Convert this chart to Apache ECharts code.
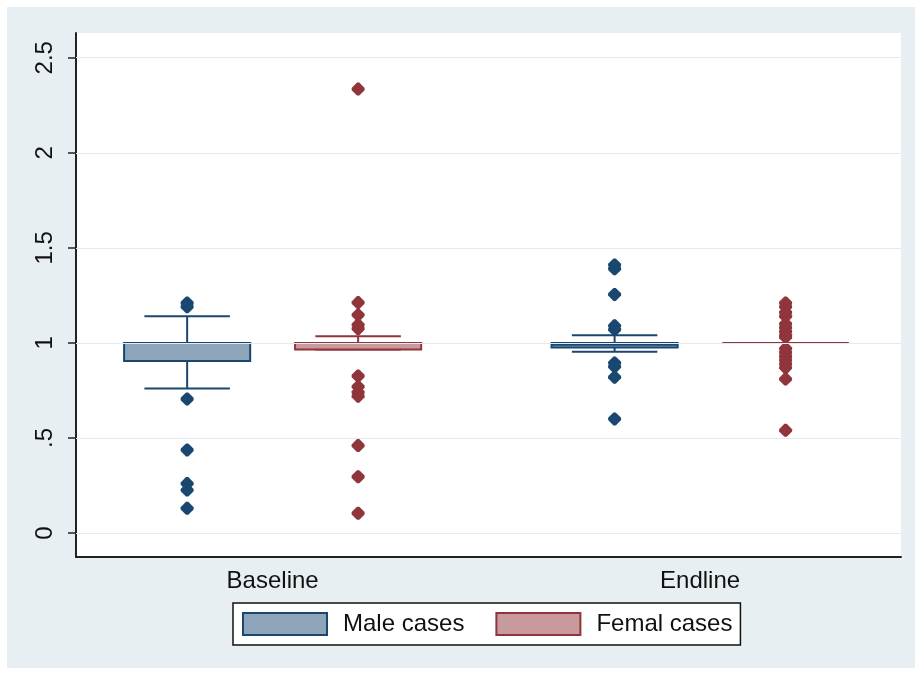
<!DOCTYPE html>
<html>
<head>
<meta charset="utf-8">
<script src="https://cdn.jsdelivr.net/npm/echarts@6/dist/echarts.min.js"></script>
<style>
  html, body { margin: 0; padding: 0; background: #ffffff; }
  #chart { width: 915px; height: 675px; }
</style>
</head>
<body>
<div id="chart"></div>
<script>
// Group labels on the horizontal axis and their positions
const groups = ['Baseline', 'Endline'];
const groupPos = [1, 2];
const seriesNames = ['Male cases', 'Femal cases'];

// Box summaries per group: [lower adjacent, Q1, median, Q3, upper adjacent]
const maleBox = [
  [0.76, 0.905, 1.0, 1.0, 1.14],
  [0.953, 0.976, 0.99, 1.0, 1.04]
];
const femaleBox = [
  [0.965, 0.965, 1.0, 1.0, 1.035],
  [1.0, 1.0, 1.0, 1.0, 1.0]
];

// Outside values per group
const maleOutliers = [
  [1.21, 1.19, 0.705, 0.437, 0.26, 0.226, 0.13],
  [1.41, 1.39, 1.255, 1.09, 1.07, 0.895, 0.875, 0.82, 0.6]
];
const femaleOutliers = [
  [2.335, 1.212, 1.147, 1.095, 1.075, 0.826, 0.77, 0.74, 0.72, 0.46, 0.296, 0.104],
  [1.21, 1.19, 1.16, 1.14, 1.10, 1.08, 1.06, 1.04, 1.03, 0.97, 0.95, 0.93, 0.91, 0.89, 0.87, 0.81, 0.54]
];

// Vertical axis ticks and their labels
const yTicks = [0, 0.5, 1, 1.5, 2, 2.5];
const yTickLabels = ['0', '.5', '1', '1.5', '2', '2.5'];

// Styling
const OFFSET = 0.2;      // distance of each box from its group centre
const BOX_W = 0.295;     // box width in axis units
const CAP_W = 0.2;       // whisker cap width in axis units
const maleStroke = '#1a476f', maleFill = '#8ea4b8';
const femaleStroke = '#90353b', femaleFill = '#c89a9d';
const FONT = 'Liberation Sans, Arial, sans-serif';

function boxData(stats, side) {
  return stats.map((s, i) => [groupPos[i] + side * OFFSET].concat(s));
}
function pointData(lists, side) {
  const out = [];
  lists.forEach((vals, i) => vals.forEach(v => out.push([groupPos[i] + side * OFFSET, v])));
  return out;
}

function makeRenderer(stroke, fill) {
  return function (params, api) {
    const x = api.value(0);
    const lo = api.coord([x, api.value(1)]);
    const q1 = api.coord([x, api.value(2)]);
    const md = api.coord([x, api.value(3)]);
    const q3 = api.coord([x, api.value(4)]);
    const hi = api.coord([x, api.value(5)]);
    const half = api.size([BOX_W, 0])[0] / 2;
    const capHalf = api.size([CAP_W, 0])[0] / 2;
    const cx = lo[0];
    const line = { stroke: stroke, lineWidth: 2 };
    return {
      type: 'group',
      children: [
        { type: 'line', shape: { x1: cx, y1: q3[1], x2: cx, y2: hi[1] }, style: line },
        { type: 'line', shape: { x1: cx, y1: q1[1], x2: cx, y2: lo[1] }, style: line },
        { type: 'line', shape: { x1: cx - capHalf, y1: hi[1], x2: cx + capHalf, y2: hi[1] }, style: line },
        { type: 'line', shape: { x1: cx - capHalf, y1: lo[1], x2: cx + capHalf, y2: lo[1] }, style: line },
        { type: 'rect', shape: { x: cx - half, y: q3[1], width: half * 2, height: q1[1] - q3[1] },
          style: { fill: fill, stroke: stroke, lineWidth: 2 } },
        { type: 'line', shape: { x1: cx - half, y1: md[1], x2: cx + half, y2: md[1] }, style: line }
      ]
    };
  };
}

// blunt-tipped diamond marker
const marker = 'path://M-1.6,-9 L1.6,-9 L9,-1.6 L9,1.6 L1.6,9 L-1.6,9 L-9,1.6 L-9,-1.6Z';

const chart = echarts.init(document.getElementById('chart'), null, { renderer: 'canvas' });

chart.setOption({
  backgroundColor: '#ffffff',
  animation: false,
  graphic: [{
    type: 'rect', z: -10, silent: true,
    shape: { x: 7, y: 7, width: 908, height: 661 },
    style: { fill: '#e8eff2' }
  }],
  grid: {
    left: 76, top: 33, right: 14, bottom: 118,
    show: true, backgroundColor: '#ffffff', borderWidth: 0
  },
  xAxis: {
    type: 'value', min: 0.54, max: 2.47,
    axisLine: { show: true, onZero: false, lineStyle: { color: '#222', width: 2 } },
    axisTick: { show: false },
    splitLine: { show: false },
    axisLabel: {
      customValues: groupPos,
      formatter: v => groups[groupPos.indexOf(v)] || '',
      fontFamily: FONT, fontSize: 24, color: '#111', margin: 12
    }
  },
  yAxis: {
    type: 'value', min: -0.126, max: 2.63,
    axisLine: { show: true, onZero: false, lineStyle: { color: '#222', width: 2 } },
    axisTick: { show: true, customValues: yTicks, length: 8, lineStyle: { color: '#222', width: 1.5 } },
    splitLine: { show: false },
    axisLabel: {
      customValues: yTicks,
      formatter: v => yTickLabels[yTicks.indexOf(v)] || '',
      rotate: 90, fontFamily: FONT, fontSize: 24, color: '#111', margin: 19
    }
  },
  legend: {
    left: 233, top: 603,
    padding: [9, 8, 9, 9],
    itemWidth: 84, itemHeight: 22, itemGap: 31,
    borderColor: '#111', borderWidth: 1.5, backgroundColor: '#ffffff',
    textStyle: { fontFamily: FONT, fontSize: 24, color: '#111', padding: [0, 0, 0, 11] },
    data: [
      { name: seriesNames[0], icon: 'rect', itemStyle: { color: maleFill, borderColor: maleStroke, borderWidth: 2 } },
      { name: seriesNames[1], icon: 'rect', itemStyle: { color: femaleFill, borderColor: femaleStroke, borderWidth: 2 } }
    ]
  },
  series: [
    {
      // horizontal reference lines at each labelled tick
      type: 'line', data: [], z: 1, silent: true,
      markLine: {
        silent: true, symbol: 'none', label: { show: false },
        lineStyle: { color: '#e2ebef', width: 1.2, type: 'solid' },
        data: yTicks.map(v => ({ yAxis: v }))
      }
    },
    {
      name: seriesNames[0], type: 'custom', z: 3,
      renderItem: makeRenderer(maleStroke, maleFill),
      encode: { x: 0, y: [1, 2, 3, 4, 5] },
      itemStyle: { color: maleFill },
      data: boxData(maleBox, -1)
    },
    {
      name: seriesNames[1], type: 'custom', z: 3,
      renderItem: makeRenderer(femaleStroke, femaleFill),
      encode: { x: 0, y: [1, 2, 3, 4, 5] },
      itemStyle: { color: femaleFill },
      data: boxData(femaleBox, 1)
    },
    {
      name: seriesNames[0], type: 'scatter', z: 4,
      symbol: marker, symbolSize: 13,
      itemStyle: { color: maleStroke, opacity: 1 },
      data: pointData(maleOutliers, -1)
    },
    {
      name: seriesNames[1], type: 'scatter', z: 4,
      symbol: marker, symbolSize: 13,
      itemStyle: { color: femaleStroke, opacity: 1 },
      data: pointData(femaleOutliers, 1)
    }
  ]
});
</script>
</body>
</html>
